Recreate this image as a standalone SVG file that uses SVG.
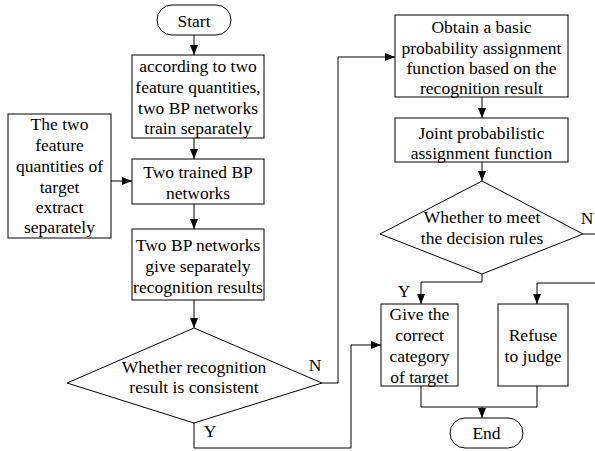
<svg xmlns="http://www.w3.org/2000/svg" width="595" height="451" viewBox="0 0 595 451">
<style>
.s{fill:#fff;stroke:#000;stroke-width:1}
.c{fill:none;stroke:#000;stroke-width:1}
text{font-family:'Liberation Serif','Times New Roman',serif;font-size:17.5px;fill:#000;text-anchor:middle}
</style>
<defs>
<marker id="a" viewBox="0 0 10 8" refX="10" refY="4" markerWidth="10" markerHeight="8" markerUnits="userSpaceOnUse" orient="auto"><path d="M0,0 L10,4 L0,8 Z" fill="#000"/></marker>
</defs>
<rect width="595" height="451" fill="#fff"/>
<g id="connectors">
<path class="c" d="M194,35 V55" marker-end="url(#a)"/>
<path class="c" d="M194,138 V159" marker-end="url(#a)"/>
<path class="c" d="M111,181 H132" marker-end="url(#a)"/>
<path class="c" d="M194,204 V229" marker-end="url(#a)"/>
<path class="c" d="M194,300 V328" marker-end="url(#a)"/>
<path class="c" d="M322,383 H338 V57 H395" marker-end="url(#a)"/>
<path class="c" d="M194,423 V448 H351 V345 H381" marker-end="url(#a)"/>
<path class="c" d="M482,97 V118" marker-end="url(#a)"/>
<path class="c" d="M482,162 V181" marker-end="url(#a)"/>
<path class="c" d="M482,274 V282 H421 V304" marker-end="url(#a)"/>
<path class="c" d="M583,234 H595"/>
<path class="c" d="M595,283 H537 V304" marker-end="url(#a)"/>
<path class="c" d="M421,386 V407 H537 V386"/>
<path class="c" d="M482,407 V418" marker-end="url(#a)"/>
<text x="315" y="371">N</text>
<text x="210" y="437">Y</text>
<text x="587" y="224">N</text>
<text x="404" y="297">Y</text>
</g>
<g id="start">
<rect class="s" x="157" y="5" width="74" height="30" rx="15" ry="15"/>
<text x="194" y="27">Start</text>
</g>
<g id="train">
<rect class="s" x="132" y="55" width="132" height="83"/>
<text x="198" y="72">according to two</text>
<text x="198" y="93">feature quantities,</text>
<text x="198" y="114">two BP networks</text>
<text x="198" y="134">train separately</text>
</g>
<g id="extract">
<rect class="s" x="8" y="114" width="103" height="124"/>
<text x="59.5" y="130">The two</text>
<text x="59.5" y="151">feature</text>
<text x="59.5" y="172">quantities of</text>
<text x="59.5" y="193">target</text>
<text x="59.5" y="213">extract</text>
<text x="59.5" y="233">separately</text>
</g>
<g id="trained">
<rect class="s" x="132" y="159" width="132" height="45"/>
<text x="198" y="178">Two trained BP</text>
<text x="198" y="199">networks</text>
</g>
<g id="results">
<rect class="s" x="132" y="229" width="132" height="71"/>
<text x="198" y="251">Two BP networks</text>
<text x="198" y="272">give separately</text>
<text x="198" y="293">recognition results</text>
</g>
<g id="consistent">
<polygon class="s" points="194,328 322,383 194,423 67,383"/>
<text x="194" y="373">Whether recognition</text>
<text x="194" y="393">result is consistent</text>
</g>
<g id="bpa">
<rect class="s" x="395" y="15" width="173" height="82"/>
<text x="481.5" y="33">Obtain a basic</text>
<text x="481.5" y="53.5">probability assignment</text>
<text x="481.5" y="74">function based on the</text>
<text x="481.5" y="94">recognition result</text>
</g>
<g id="joint">
<rect class="s" x="395" y="118" width="173" height="44"/>
<text x="481.5" y="139">Joint probabilistic</text>
<text x="481.5" y="159">assignment function</text>
</g>
<g id="decision">
<polygon class="s" points="482,181 583,234 482,274 380,234"/>
<text x="482" y="223">Whether to meet</text>
<text x="482" y="244">the decision rules</text>
</g>
<g id="correct">
<rect class="s" x="381" y="304" width="77" height="82"/>
<text x="419.5" y="320">Give the</text>
<text x="419.5" y="341">correct</text>
<text x="419.5" y="362">category</text>
<text x="419.5" y="383">of target</text>
</g>
<g id="refuse">
<rect class="s" x="498" y="304" width="70" height="82"/>
<text x="533" y="341">Refuse</text>
<text x="533" y="362">to judge</text>
</g>
<g id="end">
<rect class="s" x="450" y="418" width="73" height="30" rx="15" ry="15"/>
<text x="486.5" y="439">End</text>
</g>
</svg>
